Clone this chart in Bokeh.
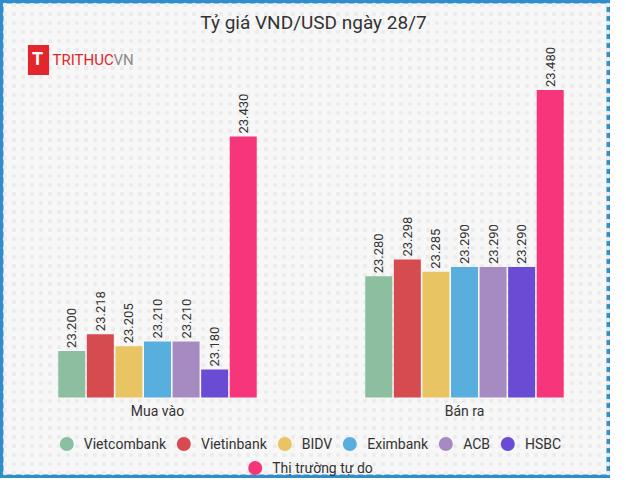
from math import pi

from bokeh.core.properties import value
from bokeh.embed import file_html
from bokeh.models import BoxAnnotation, ColumnDataSource, Label, Legend, LegendItem, Range1d
from bokeh.plotting import figure
from bokeh.resources import INLINE
from bokeh.transform import dodge

# ---- data ----
categories = ["Mua vào", "Bán ra"]
banks = ["Vietcombank", "Vietinbank", "BIDV", "Eximbank", "ACB", "HSBC", "Thị trường tự do"]
mua_vao = [23200, 23218, 23205, 23210, 23210, 23180, 23430]
ban_ra = [23280, 23298, 23285, 23290, 23290, 23290, 23480]
colors = ["#8bbf9f", "#d64b4f", "#e8c462", "#58afdd", "#a58bc2", "#6a4bd3", "#f7357b"]
title_text = "Tỷ giá VND/USD ngày 28/7"
y_base = 23150

FONT = "Roboto"
TEXT = "#333333"
BG = "#f7f7f7"
W, H = 610, 478

cat_pos = list(range(len(categories)))

p = figure(
    x_range=Range1d(-0.5114, 1.4756),
    y_range=Range1d(23063.1, 23576.0),
    width=W, height=H,
    output_backend="svg", toolbar_location=None,
    x_axis_location=None, y_axis_location=None,
    min_border_left=0, min_border_right=0, min_border_top=0, min_border_bottom=0,
)
p.background_fill_color = BG
p.border_fill_color = BG
p.outline_line_color = "#2e8dca"
p.outline_line_width = 6
p.grid.visible = False

# faint dotted texture of the background
p.add_layout(BoxAnnotation(fill_alpha=0, line_color=None, level="underlay",
                           hatch_pattern="dot", hatch_color="#ececec",
                           hatch_scale=9, hatch_weight=0.5, hatch_alpha=1.0))

step = 0.0931
bar_w = 0.0879
legend_items = []
for i, (bank, color) in enumerate(zip(banks, colors)):
    vals = [mua_vao[i], ban_ra[i]]
    src = ColumnDataSource(dict(
        x=cat_pos, top=vals,
        label=[f"{v:,}".replace(",", ".") for v in vals],
    ))
    off = (i - 3) * step
    p.vbar(x=dodge("x", off), top="top", bottom=y_base, width=bar_w,
           source=src, fill_color=color, line_color=None)
    p.text(x=dodge("x", off), y="top", text="label", source=src,
           angle=pi / 2, text_align="left", text_baseline="middle", y_offset=-3,
           text_font=value(FONT), text_font_size="13px", text_color=TEXT)
    # legend marker renderer (zero-size points, only its legend glyph shows)
    r = p.scatter(x=dodge("x", off), y="top", source=src, marker="circle", size=0,
                  fill_color=color, line_color=None)
    legend_items.append(LegendItem(label=bank, renderers=[r]))

# category labels under the groups
cat_src = ColumnDataSource(dict(x=cat_pos, y=[y_base] * len(categories), text=categories))
p.text(x="x", y="y", text="text", source=cat_src, y_offset=13,
       text_align="center", text_baseline="middle",
       text_font=value(FONT), text_font_size="14px", text_color=TEXT)


def make_legend(items, margin):
    lg = Legend(items=items, location="bottom_center", orientation="horizontal",
                margin=margin, padding=0, spacing=0, label_standoff=0,
                glyph_width=35, glyph_height=35,
                border_line_color=None, background_fill_alpha=0,
                label_text_font=FONT, label_text_font_size="14px", label_text_color=TEXT)
    p.add_layout(lg)


make_legend(legend_items[:6], 17)
make_legend(legend_items[6:], -7)

# title
p.add_layout(Label(x=313, y=H - 22, x_units="screen", y_units="screen", text=title_text,
                   text_align="center", text_baseline="middle", text_color=TEXT,
                   text_font=FONT, text_font_size="19px"))

# logo
logo_y = H - 59.5
p.add_layout(Label(x=38, y=logo_y, x_units="screen", y_units="screen", text="T",
                   text_align="center", text_baseline="middle", text_color="white",
                   text_font=FONT, text_font_style="bold", text_font_size="18px",
                   background_fill_color="#e3262b", padding=(4, 6, 3, 6)))
p.add_layout(Label(x=52, y=logo_y, x_units="screen", y_units="screen", text="TRITHUC",
                   text_align="left", text_baseline="middle", text_color="#e3262b",
                   text_font=FONT, text_font_size="15px"))
p.add_layout(Label(x=113, y=logo_y, x_units="screen", y_units="screen", text="VN",
                   text_align="left", text_baseline="middle", text_color="#8a8a8a",
                   text_font=FONT, text_font_size="15px"))

open("out.html", "w").write(file_html(p, INLINE))
